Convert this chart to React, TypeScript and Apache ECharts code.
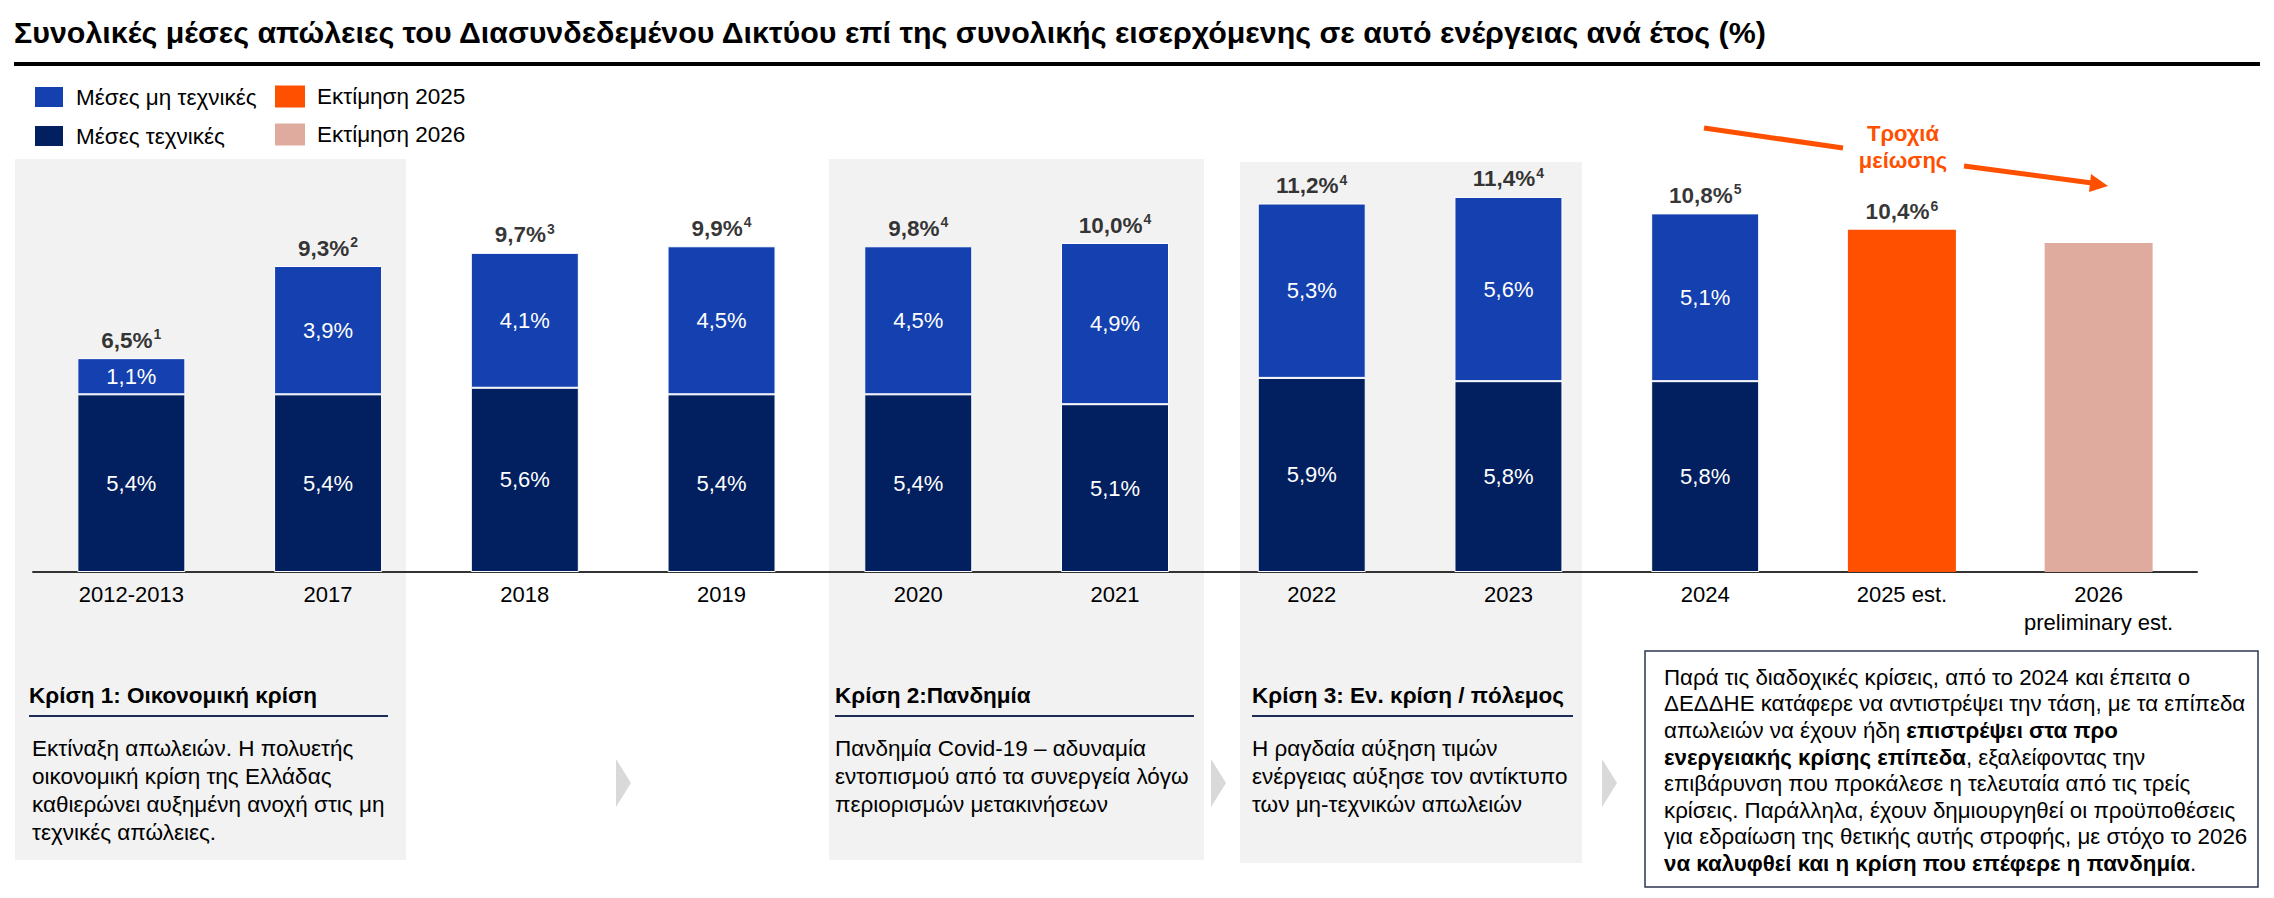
import React, { useEffect, useRef } from "react";
import * as echarts from "echarts";

const FONT = '"Liberation Sans", Arial, Helvetica, sans-serif';

const categories = [
  "2012-2013",
  "2017",
  "2018",
  "2019",
  "2020",
  "2021",
  "2022",
  "2023",
  "2024",
  "2025 est.",
  "2026\npreliminary est.",
];
const technical = [5.4, 5.4, 5.6, 5.4, 5.4, 5.1, 5.9, 5.8, 5.8, null, null];
const nonTechnical = [1.1, 3.9, 4.1, 4.5, 4.5, 4.9, 5.3, 5.6, 5.1, null, null];
const estimate2025 = [null, null, null, null, null, null, null, null, null, 10.4, null];
const estimate2026 = [null, null, null, null, null, null, null, null, null, null, 10.0];
const totalLabels = ["6,5%", "9,3%", "9,7%", "9,9%", "9,8%", "10,0%", "11,2%", "11,4%", "10,8%", "10,4%", null];
const footnotes = ["1", "2", "3", "4", "4", "4", "4", "4", "5", "6", null];

const title =
  "Συνολικές μέσες απώλειες του Διασυνδεδεμένου Δικτύου επί της συνολικής εισερχόμενης σε αυτό ενέργειας ανά έτος (%)";
const crisis1Title = "Κρίση 1: Οικονομική κρίση";
const crisis1Text = [
  "Εκτίναξη απωλειών. Η πολυετής",
  "οικονομική κρίση της Ελλάδας",
  "καθιερώνει αυξημένη ανοχή στις μη",
  "τεχνικές απώλειες.",
];
const crisis2Title = "Κρίση 2:Πανδημία";
const crisis2Text = [
  "Πανδημία Covid-19 – αδυναμία",
  "εντοπισμού από τα συνεργεία λόγω",
  "περιορισμών μετακινήσεων",
];
const crisis3Title = "Κρίση 3: Εν. κρίση / πόλεμος";
const crisis3Text = [
  "Η ραγδαία αύξηση τιμών",
  "ενέργειας αύξησε τον αντίκτυπο",
  "των μη-τεχνικών απωλειών",
];
const summaryRich =
  "{n|Παρά τις διαδοχικές κρίσεις, από το 2024 και έπειτα ο}\n" +
  "{n|ΔΕΔΔΗΕ κατάφερε να αντιστρέψει την τάση, με τα επίπεδα}\n" +
  "{n|απωλειών να έχουν ήδη }{b|επιστρέψει στα προ}\n" +
  "{b|ενεργειακής κρίσης επίπεδα}{n|, εξαλείφοντας την}\n" +
  "{n|επιβάρυνση που προκάλεσε η τελευταία από τις τρείς}\n" +
  "{n|κρίσεις. Παράλληλα, έχουν δημιουργηθεί οι προϋποθέσεις}\n" +
  "{n|για εδραίωση της θετικής αυτής στροφής, με στόχο το 2026}\n" +
  "{b|να καλυφθεί και η κρίση που επέφερε η πανδημία}{n|.}";
const trendLabel = "Τροχιά\nμείωσης";

const C_NONTECH = "#1441AF";
const C_TECH = "#02205F";
const C_2025 = "#FF5000";
const C_2026 = "#DFAB9F";

function fmt(v: number) {
  return v.toFixed(1).replace(".", ",") + "%";
}

export default function App() {
  const ref = useRef<HTMLDivElement>(null);

  useEffect(() => {
    if (!ref.current) return;
    const chart = echarts.init(ref.current, null, { renderer: "svg" });

    const tops = categories.map((_, i) => {
      if (technical[i] != null && nonTechnical[i] != null) return (technical[i] as number) + (nonTechnical[i] as number);
      if (estimate2025[i] != null) return estimate2025[i];
      return null;
    });

    const bodyStyle = (lines: string[]) => ({
      text: lines.join("\n"),
      fontSize: 22.5,
      fontFamily: FONT,
      fill: "#000",
      lineHeight: 28,
      align: "left",
      verticalAlign: "top",
    });
    const headStyle = (t: string) => ({
      text: t,
      fontSize: 22.5,
      fontWeight: "bold",
      fontFamily: FONT,
      fill: "#000",
      align: "left",
      verticalAlign: "middle",
    });
    const chevron = (x: number) => ({
      type: "polygon",
      shape: { points: [[x, 759], [x + 15, 783], [x, 807]] },
      style: { fill: "#d9d9d9" },
    });

    const labelInside = {
      show: true,
      position: "inside",
      color: "#fff",
      fontSize: 22,
      fontFamily: FONT,
      formatter: (p: any) => fmt(p.value),
    };

    const legendBase = {
      orient: "vertical",
      top: 85,
      padding: 0,
      itemWidth: 30,
      itemHeight: 22,
      itemGap: 15,
      icon: "rect",
      selectedMode: false,
      textStyle: { fontSize: 22.5, color: "#000", fontFamily: FONT, padding: [0, 0, 0, 7] },
    };

    const option: any = {
      animation: false,
      backgroundColor: "#fff",
      textStyle: { fontFamily: FONT },
      grid: { left: 33, right: 77, top: 177.2, bottom: 326, containLabel: false },
      legend: [
        { ...legendBase, data: ["Μέσες μη τεχνικές", "Μέσες τεχνικές"], left: 33 },
        { ...legendBase, data: ["Εκτίμηση 2025", "Εκτίμηση 2026"], left: 275 },
      ],
      xAxis: {
        type: "category",
        data: categories,
        axisTick: { show: false },
        axisLine: { lineStyle: { color: "#333", width: 2 } },
        axisLabel: {
          color: "#000",
          fontSize: 22,
          fontFamily: FONT,
          margin: 8,
          lineHeight: 28,
          interval: 0,
        },
      },
      yAxis: { type: "value", min: 0, max: 12, show: false, splitLine: { show: false } },
      series: [
        {
          name: "Μέσες τεχνικές",
          type: "bar",
          stack: "s",
          barWidth: 108,
          data: technical,
          itemStyle: { color: C_TECH, borderColor: "#fff", borderWidth: 1 },
          label: labelInside,
        },
        {
          name: "Μέσες μη τεχνικές",
          type: "bar",
          stack: "s",
          barWidth: 108,
          data: nonTechnical,
          itemStyle: { color: C_NONTECH, borderColor: "#fff", borderWidth: 1 },
          label: labelInside,
        },
        {
          name: "Εκτίμηση 2025",
          type: "bar",
          stack: "s",
          barWidth: 108,
          data: estimate2025,
          itemStyle: { color: C_2025 },
        },
        {
          name: "Εκτίμηση 2026",
          type: "bar",
          stack: "s",
          barWidth: 108,
          data: estimate2026,
          itemStyle: { color: C_2026 },
        },
        {
          name: "totals",
          type: "scatter",
          symbolSize: 0,
          data: tops,
          z: 5,
          label: {
            show: true,
            position: "top",
            distance: 5,
            formatter: (p: any) =>
              totalLabels[p.dataIndex] ? `{b|${totalLabels[p.dataIndex]}}{s|${footnotes[p.dataIndex]}}` : "",
            rich: {
              b: { fontSize: 22.5, fontWeight: "bold", color: "#000", fontFamily: FONT, lineHeight: 26 },
              s: { fontSize: 14, fontWeight: "bold", color: "#000", fontFamily: FONT, verticalAlign: "top", lineHeight: 14, padding: [0, 0, 0, 1] },
            },
          },
        },
      ],
      graphic: [
        { type: "rect", z: -10, shape: { x: 15, y: 159, width: 391, height: 701 }, style: { fill: "#f2f2f2" } },
        { type: "rect", z: -10, shape: { x: 829, y: 159, width: 375, height: 701 }, style: { fill: "#f2f2f2" } },
        { type: "rect", z: -10, shape: { x: 1240, y: 162, width: 342, height: 701 }, style: { fill: "#f2f2f2" } },
        {
          type: "text",
          x: 14,
          y: 32,
          style: { text: title, fontSize: 30.4, fontWeight: "bold", fontFamily: FONT, fill: "#000", align: "left", verticalAlign: "middle" },
        },
        { type: "rect", shape: { x: 14, y: 62, width: 2246, height: 4 }, style: { fill: "#000" } },
        { type: "text", x: 29, y: 695, style: headStyle(crisis1Title) },
        { type: "rect", shape: { x: 29, y: 715, width: 359, height: 2 }, style: { fill: "#1f2d55" } },
        { type: "text", x: 32, y: 734, style: bodyStyle(crisis1Text) },
        { type: "text", x: 835, y: 695, style: headStyle(crisis2Title) },
        { type: "rect", shape: { x: 835, y: 715, width: 359, height: 2 }, style: { fill: "#1f2d55" } },
        { type: "text", x: 835, y: 734, style: bodyStyle(crisis2Text) },
        { type: "text", x: 1252, y: 695, style: headStyle(crisis3Title) },
        { type: "rect", shape: { x: 1252, y: 715, width: 321, height: 2 }, style: { fill: "#1f2d55" } },
        { type: "text", x: 1252, y: 734, style: bodyStyle(crisis3Text) },
        chevron(616),
        chevron(1211),
        chevron(1602),
        {
          type: "rect",
          shape: { x: 1645, y: 651, width: 613, height: 236 },
          style: { fill: "#fff", stroke: "#2d3650", lineWidth: 1.5 },
        },
        {
          type: "text",
          x: 1664,
          y: 664,
          style: {
            text: summaryRich,
            align: "left",
            verticalAlign: "top",
            rich: {
              n: { fontSize: 22.3, fontFamily: FONT, fill: "#000", lineHeight: 26.6 },
              b: { fontSize: 22.3, fontFamily: FONT, fill: "#000", fontWeight: "bold", lineHeight: 26.6 },
            },
          },
        },
        {
          type: "line",
          shape: { x1: 1704, y1: 128, x2: 1843, y2: 148 },
          style: { stroke: C_2025, lineWidth: 5 },
        },
        {
          type: "line",
          shape: { x1: 1964, y1: 166, x2: 2092, y2: 183 },
          style: { stroke: C_2025, lineWidth: 5 },
        },
        {
          type: "polygon",
          shape: { points: [[2091, 174], [2108, 186], [2089, 192]] },
          style: { fill: C_2025 },
        },
        {
          type: "text",
          x: 1903,
          y: 147,
          style: {
            text: trendLabel,
            fontSize: 22,
            fontWeight: "bold",
            fontFamily: FONT,
            fill: C_2025,
            lineHeight: 27,
            align: "center",
            verticalAlign: "middle",
          },
        },
      ],
    };

    chart.setOption(option);
    return () => chart.dispose();
  }, []);

  return (
    <div
      ref={ref}
      style={{ position: "fixed", left: 0, top: 0, width: 2274, height: 898, background: "#fff" }}
    />
  );
}
